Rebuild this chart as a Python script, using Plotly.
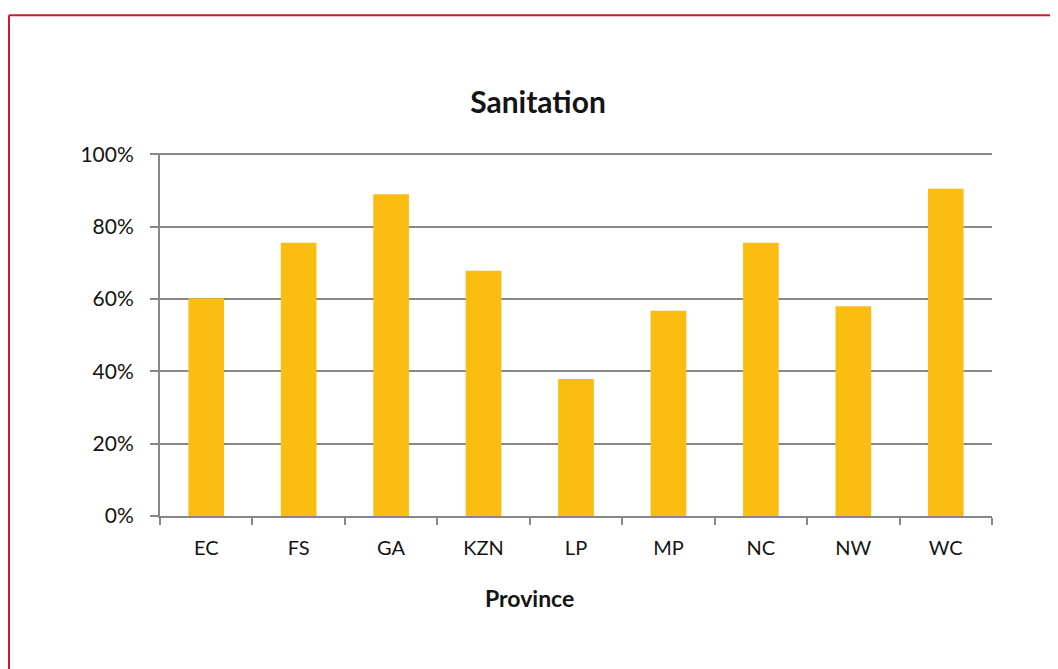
import plotly.graph_objects as go

provinces = ["EC", "FS", "GA", "KZN", "LP", "MP", "NC", "NW", "WC"]
sanitation = [0.602, 0.756, 0.890, 0.678, 0.379, 0.568, 0.756, 0.580, 0.905]
y_ticks = [0, 0.2, 0.4, 0.6, 0.8, 1.0]
y_tick_labels = ["0%", "20%", "40%", "60%", "80%", "100%"]

# page body has an 8px margin, so figure coords = screen coords - 8
W, H = 1050, 661
L, R, T, B = 152, 66, 145, 153
pw, ph = W - L - R, H - T - B
YMAX = 1.004

FONT = "Lato, Open Sans, sans-serif"
GRID = "#878787"
TXT = "#141414"

fig = go.Figure(go.Bar(x=provinces, y=sanitation,
                       marker=dict(color="#FCBD12", line=dict(width=0))))

def fx(px):
    return (px - L) / pw

def fy(py):
    return (H - B - py) / ph

fig.update_layout(
    width=W, height=H,
    margin=dict(l=L, r=R, t=T, b=B, pad=0),
    paper_bgcolor="white", plot_bgcolor="white",
    bargap=0.614,
    showlegend=False,
    font=dict(family=FONT, color=TXT, size=20),
    title=dict(text="<b>Sanitation</b>", x=530 / W, xanchor="center", xref="container",
               y=1 - 94 / H, yanchor="middle", yref="container",
               font=dict(family=FONT, size=30, color=TXT)),
    xaxis=dict(
        showline=True, linecolor=GRID, linewidth=2,
        ticks="outside", ticklen=7, tickwidth=1.5, tickcolor=GRID,
        tickson="boundaries", showgrid=False,
        ticklabelstandoff=13,
        tickfont=dict(family=FONT, size=20, color=TXT),
    ),
    yaxis=dict(
        range=[0, YMAX], tickvals=y_ticks, ticktext=y_tick_labels,
        showline=True, linecolor=GRID, linewidth=2,
        ticks="outside", ticklen=8, tickwidth=1.5, tickcolor=GRID,
        showgrid=True, gridcolor=GRID, gridwidth=1.8, zeroline=False,
        ticklabelstandoff=12,
        tickfont=dict(family=FONT, size=21, color=TXT),
    ),
    annotations=[
        dict(text="<b>Province</b>", xref="paper", yref="paper",
             x=fx(521), y=fy(590), xanchor="center", yanchor="middle",
             showarrow=False, font=dict(family=FONT, size=23, color=TXT)),
    ],
    shapes=[
        dict(type="line", xref="paper", yref="paper",
             x0=fx(1), x1=fx(W + 5), y0=fy(7.3), y1=fy(7.3),
             line=dict(color="#D3172E", width=2)),
        dict(type="line", xref="paper", yref="paper",
             x0=fx(1), x1=fx(1), y0=fy(7.3), y1=fy(H + 5),
             line=dict(color="#D3172E", width=2)),
    ],
)

fig.write_html("out.html")
